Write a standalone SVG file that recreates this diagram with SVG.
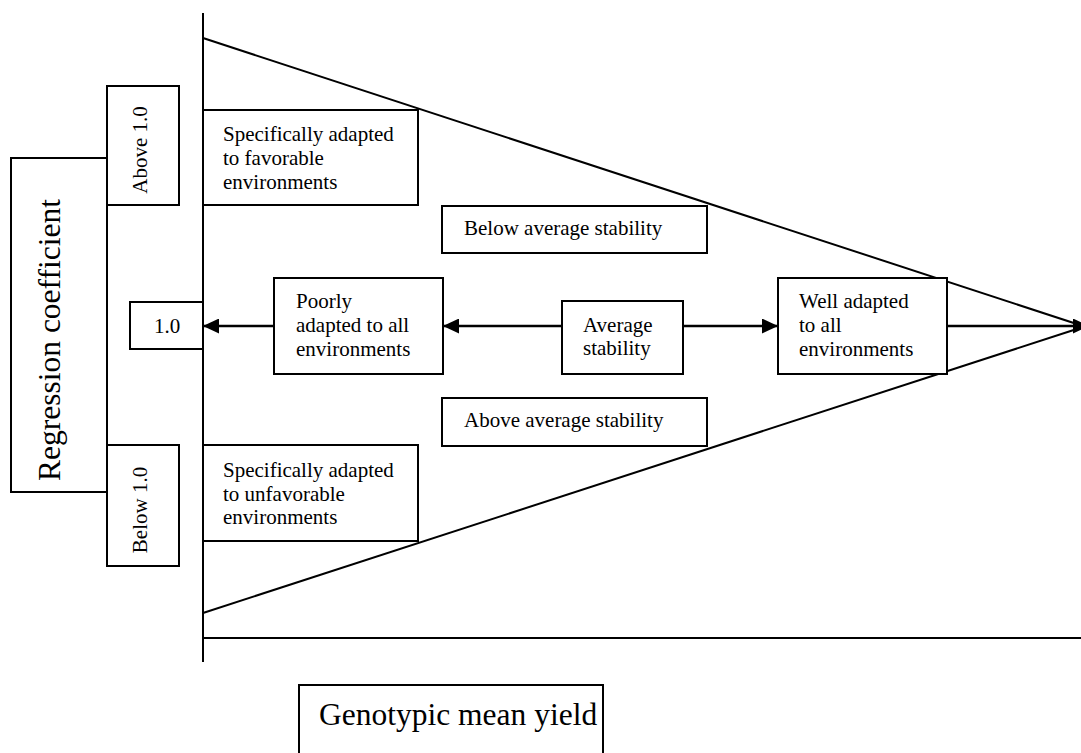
<svg xmlns="http://www.w3.org/2000/svg" width="1081" height="753" viewBox="0 0 1081 753">
<defs>
<style>
.ln{stroke:#000;stroke-width:2;fill:none}
.ar{stroke:#000;stroke-width:2.5;fill:none;marker-end:url(#ah)}
.bx{fill:#fff;stroke:#000;stroke-width:2}
text{font-family:'Liberation Serif','DejaVu Serif',serif;fill:#000}
.t{font-size:21px}
.tl{font-size:31.5px}
</style>
<marker id="ah" markerUnits="userSpaceOnUse" markerWidth="16" markerHeight="15" refX="16" refY="7.5" orient="auto">
<path d="M0,0 L16,7.5 L0,15 Z" fill="#000"/>
</marker>
</defs>
<rect width="1081" height="753" fill="#fff"/>
<g id="connectors">
<line class="ln" x1="203" y1="13" x2="203" y2="662"/>
<line class="ln" x1="203" y1="638" x2="1081" y2="638"/>
<line class="ln" x1="203" y1="38" x2="1086" y2="327"/>
<line class="ln" x1="203" y1="613" x2="1086" y2="326"/>
<line class="ar" x1="274" y1="326" x2="203" y2="326"/>
<line class="ar" x1="562" y1="326" x2="443" y2="326"/>
<line class="ar" x1="683" y1="326" x2="778" y2="326"/>
<line class="ar" x1="947" y1="326" x2="1089" y2="326"/>
</g>
<g id="regression">
<rect class="bx" x="11" y="158" width="96" height="334"/>
<text class="tl" font-family="Liberation Serif, serif" transform="translate(60,340) rotate(-90)" text-anchor="middle">Regression coefficient</text>
</g>
<g id="above10">
<rect class="bx" x="107" y="86" width="72" height="119"/>
<text class="t" font-family="Liberation Serif, serif" transform="translate(147,150) rotate(-90)" text-anchor="middle">Above 1.0</text>
</g>
<g id="below10">
<rect class="bx" x="107" y="445" width="72" height="121"/>
<text class="t" font-family="Liberation Serif, serif" transform="translate(147,510) rotate(-90)" text-anchor="middle">Below 1.0</text>
</g>
<g id="one">
<rect class="bx" x="130" y="302" width="73" height="47"/>
<text class="t" font-family="Liberation Serif, serif" x="167" y="333" text-anchor="middle" font-size="23">1.0</text>
</g>
<g id="favorable" font-family="Liberation Serif, serif">
<rect class="bx" x="203" y="110" width="215" height="95"/>
<text class="t" x="223" y="141">Specifically adapted</text>
<text class="t" x="223" y="165">to favorable</text>
<text class="t" x="223" y="189">environments</text>
</g>
<g id="unfavorable">
<rect class="bx" x="203" y="445" width="215" height="96"/>
<text class="t" x="223" y="477">Specifically adapted</text>
<text class="t" x="223" y="501">to unfavorable</text>
<text class="t" x="223" y="524">environments</text>
</g>
<g id="belowavg">
<rect class="bx" x="442" y="206" width="265" height="47"/>
<text class="t" x="464" y="235">Below average stability</text>
</g>
<g id="aboveavg">
<rect class="bx" x="442" y="398" width="265" height="48"/>
<text class="t" x="464" y="427">Above average stability</text>
</g>
<g id="poorly">
<rect class="bx" x="274" y="278" width="169" height="96"/>
<text class="t" x="296" y="308">Poorly</text>
<text class="t" x="296" y="332">adapted to all</text>
<text class="t" x="296" y="356">environments</text>
</g>
<g id="average">
<rect class="bx" x="562" y="301" width="121" height="73"/>
<text class="t" x="583" y="332">Average</text>
<text class="t" x="583" y="355">stability</text>
</g>
<g id="well">
<rect class="bx" x="778" y="278" width="169" height="96"/>
<text class="t" x="799" y="308">Well adapted</text>
<text class="t" x="799" y="332">to all</text>
<text class="t" x="799" y="356">environments</text>
</g>
<g id="genotypic">
<rect class="bx" x="299" y="685" width="304" height="80"/>
<text class="tl" x="319" y="725">Genotypic mean yield</text>
</g>
</svg>
